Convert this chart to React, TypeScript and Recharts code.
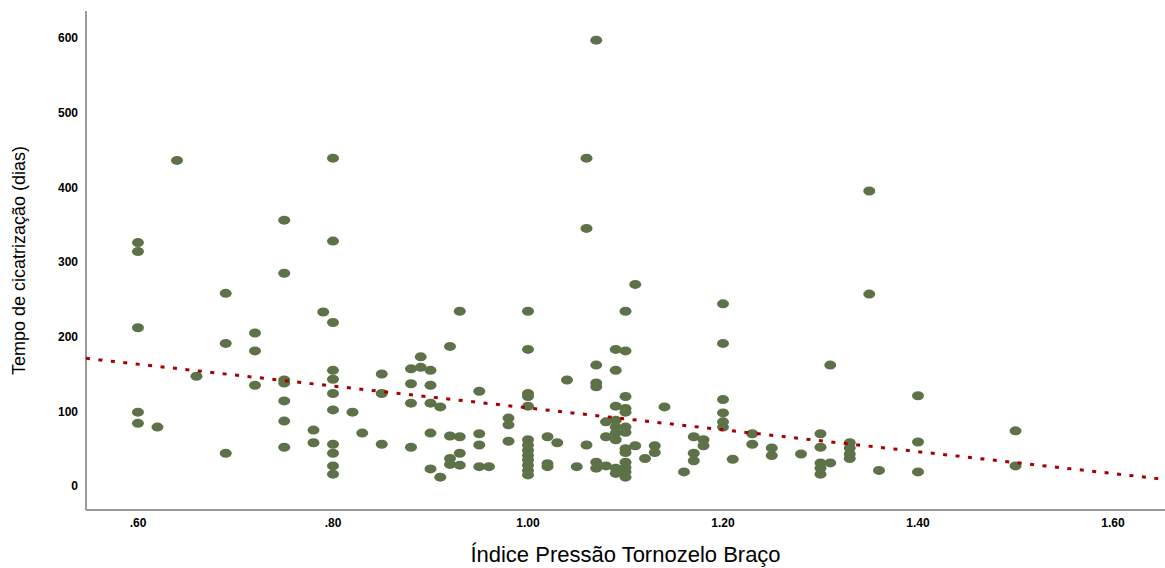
import { ScatterChart, Scatter, XAxis, YAxis, Label } from 'recharts'

// Índice Pressão Tornozelo Braço (ITB) for each patient
const itb = [
  0.6, 0.6, 0.6, 0.6, 0.6,
  0.62, 0.64, 0.66,
  0.69, 0.69, 0.69,
  0.72, 0.72, 0.72,
  0.75, 0.75, 0.75, 0.75, 0.75, 0.75, 0.75,
  0.78, 0.78, 0.79,
  0.8, 0.8, 0.8, 0.8, 0.8, 0.8, 0.8, 0.8, 0.8, 0.8, 0.8,
  0.82, 0.83,
  0.85, 0.85, 0.85,
  0.88, 0.88, 0.88, 0.88,
  0.89, 0.89,
  0.9, 0.9, 0.9, 0.9, 0.9,
  0.91, 0.91,
  0.92, 0.92, 0.92, 0.92,
  0.93, 0.93, 0.93, 0.93,
  0.95, 0.95, 0.95, 0.95,
  0.96,
  0.98, 0.98, 0.98,
  1.0, 1.0, 1.0, 1.0, 1.0, 1.0, 1.0, 1.0, 1.0, 1.0, 1.0, 1.0, 1.0,
  1.02, 1.02, 1.02,
  1.03, 1.04, 1.05,
  1.06, 1.06, 1.06,
  1.07, 1.07, 1.07, 1.07, 1.07, 1.07,
  1.08, 1.08, 1.08,
  1.09, 1.09, 1.09, 1.09, 1.09, 1.09, 1.09, 1.09, 1.09,
  1.1, 1.1, 1.1, 1.1, 1.1, 1.1, 1.1, 1.1, 1.1, 1.1, 1.1, 1.1, 1.1,
  1.11, 1.11,
  1.12, 1.13, 1.13, 1.14, 1.16,
  1.17, 1.17, 1.17,
  1.18, 1.18,
  1.2, 1.2, 1.2, 1.2, 1.2, 1.2,
  1.21, 1.23, 1.23, 1.25, 1.25, 1.28,
  1.3, 1.3, 1.3, 1.3, 1.3,
  1.31, 1.31,
  1.33, 1.33, 1.33, 1.33,
  1.35, 1.35, 1.36,
  1.4, 1.4, 1.4,
  1.5, 1.5,
]

// Tempo de cicatrização (dias), same order as itb
const dias = [
  326, 314, 212, 99, 84,
  79, 436, 147,
  258, 191, 44,
  205, 181, 135,
  356, 285, 142, 138, 114, 87, 52,
  75, 58, 233,
  439, 328, 219, 155, 143, 124, 102, 56, 44, 27, 16,
  99, 71,
  150, 124, 56,
  157, 137, 111, 52,
  173, 159,
  155, 135, 111, 71, 23,
  106, 12,
  187, 67, 37, 29,
  234, 66, 44, 28,
  127, 70, 55, 26,
  26,
  91, 82, 60,
  234, 183, 124, 120, 107, 62, 55, 48, 41, 35, 28, 21, 15,
  66, 30, 26,
  58, 142, 26,
  439, 345, 55,
  597, 162, 138, 133, 32, 24,
  86, 66, 27,
  183, 155, 107, 88, 79, 71, 62, 24, 17,
  234, 181, 120, 104, 99, 79, 72, 50, 45, 32, 25, 19, 12,
  270, 54,
  37, 54, 45, 106, 19,
  66, 44, 34,
  62, 54,
  244, 191, 116, 98, 86, 79,
  36, 70, 56, 51, 41, 43,
  70, 52, 31, 24, 16,
  162, 31,
  58, 51, 43, 37,
  395, 257, 21,
  121, 59, 19,
  74, 27,
]

// linear fit, read at the ends of the x range
const fitX = [0.5467, 1.6533]
const fitY = [171, 9]

const xTicks = [0.6, 0.8, 1.0, 1.2, 1.4, 1.6]
const yTicks = [0, 100, 200, 300, 400, 500, 600]

const points = itb.map((x, i) => ({ x, y: dias[i] }))
const fitLine = fitX.map((x, i) => ({ x, y: fitY[i] }))

const font = '"Liberation Sans", Arial, sans-serif'
const tickStyle = { fontFamily: font, fontSize: 12, fontWeight: 700, fill: '#000' }

const Dot = (props: any) => (
  <ellipse cx={props.cx} cy={props.cy} rx={6} ry={4.5} fill="#5e7249" />
)

export default function App() {
  return (
    <div style={{ position: 'absolute', top: 0, left: 0, width: 1165, height: 568, background: '#fff' }}>
      <ScatterChart width={1165} height={568} margin={{ top: 11, right: 0, bottom: 0, left: 0 }}>
        <XAxis
          type="number"
          dataKey="x"
          domain={[0.5467, 1.6533]}
          ticks={xTicks}
          allowDataOverflow
          tickLine={false}
          axisLine={{ stroke: '#9a9a9a', strokeWidth: 2 }}
          tick={tickStyle}
          tickFormatter={(v: number) => v.toFixed(2).replace(/^0/, '')}
          height={58}
        >
          <Label
            content={({ viewBox }: any) => (
              <text
                x={viewBox.x + viewBox.width / 2}
                y={viewBox.y + 52}
                textAnchor="middle"
                fontFamily={font}
                fontSize={22}
                fill="#000"
              >
                Índice Pressão Tornozelo Braço
              </text>
            )}
          />
        </XAxis>
        <YAxis
          type="number"
          dataKey="y"
          domain={[-32, 636]}
          ticks={yTicks}
          allowDataOverflow
          tickLine={false}
          axisLine={{ stroke: '#9a9a9a', strokeWidth: 2 }}
          tick={tickStyle}
          width={86}
        >
          <Label
            content={({ viewBox }: any) => {
              const cx = 19
              const cy = viewBox.y + viewBox.height / 2
              return (
                <text
                  x={cx}
                  y={cy}
                  transform={`rotate(-90 ${cx} ${cy})`}
                  textAnchor="middle"
                  dominantBaseline="central"
                  fontFamily={font}
                  fontSize={18}
                  fill="#000"
                >
                  Tempo de cicatrização (dias)
                </text>
              )
            }}
          />
        </YAxis>
        <Scatter data={points} shape={Dot} isAnimationActive={false} />
        <Scatter
          data={fitLine}
          line={{ stroke: '#a80000', strokeWidth: 3, strokeDasharray: '4 8.5' }}
          shape={() => <g />}
          isAnimationActive={false}
        />
      </ScatterChart>
    </div>
  )
}
